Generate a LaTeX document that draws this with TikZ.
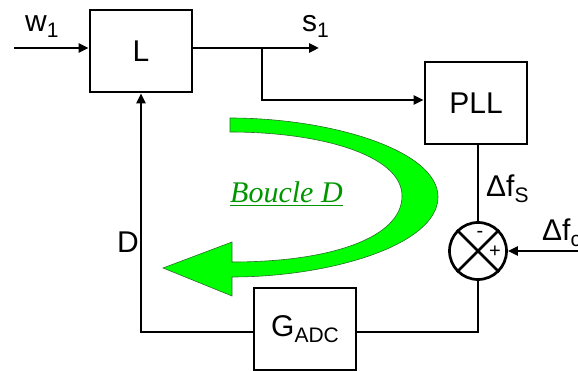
\documentclass[tikz,border=0pt]{standalone}
\usepackage{fontspec}
\setmainfont{Liberation Sans}
\newfontfamily\loopfont{Liberation Serif}
\usepackage{xcolor}
\usetikzlibrary{positioning,arrows.meta,calc}

\definecolor{loopgreen}{RGB}{0,255,0}
\definecolor{loopedge}{RGB}{40,110,40}
\definecolor{looptext}{RGB}{0,150,0}
\newcommand{\lowtxt}[1]{\raisebox{-0.2em}{\fontsize{21}{21}\selectfont #1}}

\begin{document}
\begin{tikzpicture}[
    x=1pt, y=-1pt,
    every node/.style={font=\fontsize{30}{34}\selectfont},
    block/.style={rectangle, draw, line width=2.7pt, minimum width=102pt, minimum height=82pt, inner sep=0pt},
    summer/.style={circle, draw, line width=2.7pt, minimum size=57pt, inner sep=0pt},
    sign/.style={inner sep=0pt, font=\fontsize{20}{20}\selectfont},
    lbl/.style={inner sep=0pt, anchor=base west},
    wire/.style={line width=2.7pt},
    arr/.style={wire, -{Triangle[length=10pt, width=9pt]}},
    loopshape/.style={fill=loopgreen, draw=loopedge, line width=0.6pt},
]
\useasboundingbox (0,0) rectangle (578,371);

% blocks
\node[block] (L) at (141,51) {L};
\node[block] (pll) at (476,103) {PLL};
\node[summer] (sum) at (478,251) {};
\node[block] (adc) at (305,329) {G\lowtxt{ADC}};
\draw[line width=2.7pt] (sum.north west) -- (sum.south east) (sum.north east) -- (sum.south west);
\node[sign] (minus) at ($(sum)+(2,-17)$) {-};
\node[sign] (plus) at ($(sum)+(17,1)$) {+};

% end points
\coordinate (win) at (14,48);
\coordinate (sout) at (319,48);
\coordinate (br) at (262,48);
\coordinate (tap) at (262,100);
\coordinate (cin) at (590,251);
\coordinate (bot) at (0,332);

% connectors
\draw[arr] (win) -- (win -| L.west);
\draw[arr] (L.east |- win) -- (sout);
\draw[arr] (br) -- (tap) -- (tap -| pll.west);
\draw[wire] (pll.south -| sum) -- (sum.north);
\draw[arr] (cin) -- (sum.east);
\draw[wire] (sum.south) |- (adc.east |- bot);
\draw[arr] (adc.west |- bot) -| (L.south);

% labels
\node[lbl] (w1) at (25,32) {w\lowtxt{1}};
\node[lbl] (s1) at (302,32) {s\lowtxt{1}};
\node[lbl] (dfs) at (486,197) {Δf\lowtxt{S}};
\node[lbl] (dfc) at (542,241) {Δf\lowtxt{c}};
\node[lbl] (dlab) at (117,253) {D};

% loop arrow
\draw[loopshape] (230,118) .. controls (330,118) and (438,150) .. (438,197)
    .. controls (438,245) and (330,277) .. (232,277) -- (232,296) -- (163,268)
    -- (232,242) -- (232,262) .. controls (330,262) and (402,238) .. (402,196)
    .. controls (402,155) and (320,132) .. (230,132) -- cycle;
\node[inner sep=0pt, anchor=base west, font=\loopfont\itshape\fontsize{30}{34}\selectfont, text=looptext] (boucle) at (230,203) {\underline{Boucle D}};
\end{tikzpicture}
\end{document}
